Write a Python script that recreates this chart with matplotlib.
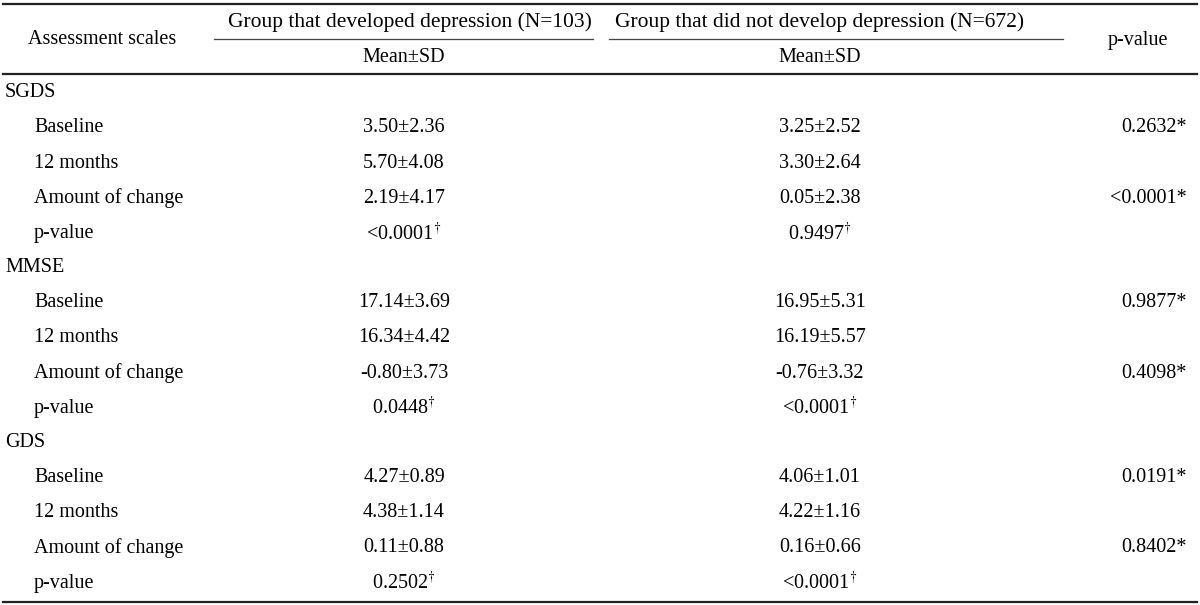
import matplotlib
matplotlib.use('Agg')
import matplotlib.pyplot as plt

plt.rcParams['font.family'] = ['Liberation Serif', 'DejaVu Serif']
plt.rcParams['mathtext.fontset'] = 'stix'

sections = ['SGDS', 'MMSE', 'GDS']
row_labels = ['Baseline', '12 months', 'Amount of change', 'p-value']
group_dev = [
    ['3.50±2.36', '5.70±4.08', '2.19±4.17', '<0.0001$^{\\dagger}$'],
    ['17.14±3.69', '16.34±4.42', '-0.80±3.73', '0.0448$^{\\dagger}$'],
    ['4.27±0.89', '4.38±1.14', '0.11±0.88', '0.2502$^{\\dagger}$'],
]
group_nodev = [
    ['3.25±2.52', '3.30±2.64', '0.05±2.38', '0.9497$^{\\dagger}$'],
    ['16.95±5.31', '16.19±5.57', '-0.76±3.32', '<0.0001$^{\\dagger}$'],
    ['4.06±1.01', '4.22±1.16', '0.16±0.66', '<0.0001$^{\\dagger}$'],
]
p_values = [
    ['0.2632*', '', '<0.0001*', ''],
    ['0.9877*', '', '0.4098*', ''],
    ['0.0191*', '', '0.8402*', ''],
]

fig = plt.figure(figsize=(12, 6.05), dpi=100)
ax = fig.add_axes([0, 0, 1, 1])
ax.set_xlim(0, 1200)
ax.set_ylim(605, 0)
ax.axis('off')

fs = 14.5
hfs = 15.5
col1_x = 404
col2_x = 820
pcol_x = 1187

# rules
ax.plot([3, 1197], [4, 4], color='#222222', lw=1.6)
ax.plot([214, 593], [39, 39], color='#444444', lw=0.9)
ax.plot([609, 1063], [39, 39], color='#444444', lw=0.9)
ax.plot([3, 1197], [74, 74], color='#222222', lw=1.6)
ax.plot([3, 1197], [601.5, 601.5], color='#222222', lw=1.6)

# header
ax.text(102, 40, 'Assessment scales', fontsize=fs, ha='center', va='center')
ax.text(410, 22, 'Group that developed depression (N=103)', fontsize=hfs, ha='center', va='center')
ax.text(820, 22, 'Group that did not develop depression (N=672)', fontsize=hfs, ha='center', va='center')
ax.text(col1_x, 57, 'Mean±SD', fontsize=fs, ha='center', va='center')
ax.text(col2_x, 57, 'Mean±SD', fontsize=fs, ha='center', va='center')
ax.text(1138, 40, 'p-value', fontsize=fs, ha='center', va='center')

# body
y = 92.5
for s, sec in enumerate(sections):
    ax.text(5, y, sec, fontsize=fs, ha='left', va='center')
    y += 35.5
    for r, lab in enumerate(row_labels):
        ax.text(34, y, lab, fontsize=fs, ha='left', va='center')
        ax.text(col1_x, y, group_dev[s][r], fontsize=fs, ha='center', va='center')
        ax.text(col2_x, y, group_nodev[s][r], fontsize=fs, ha='center', va='center')
        if p_values[s][r]:
            ax.text(pcol_x, y, p_values[s][r], fontsize=fs, ha='right', va='center')
        y += 35.2
    y -= 1.5

fig.savefig('out.png', dpi=100)
